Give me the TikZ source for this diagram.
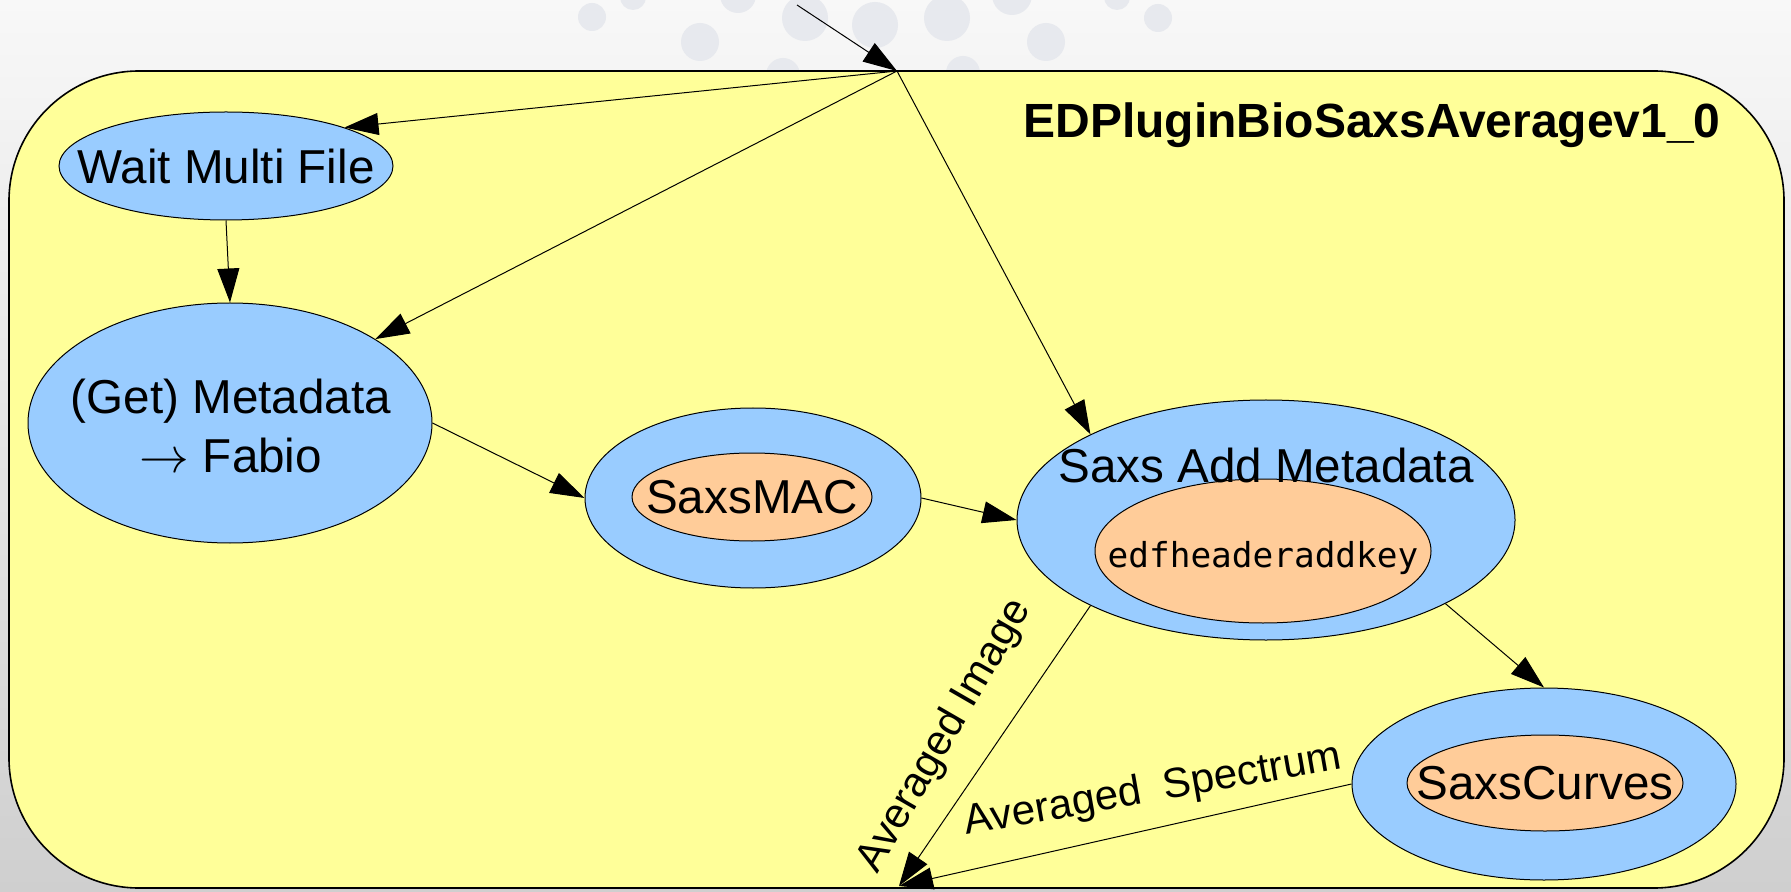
\documentclass[tikz,border=0pt]{standalone}
\usepackage{fontspec}
\setmainfont{Liberation Sans}
\newfontfamily\monofont{DejaVu Sans Mono}
\usetikzlibrary{shapes.geometric,arrows.meta}

\definecolor{boxyellow}{HTML}{FFFF99}
\definecolor{nodeblue}{HTML}{99CCFF}
\definecolor{nodeorange}{HTML}{FFCC99}
\definecolor{bgtop}{HTML}{F8F8F8}
\definecolor{bgbottom}{HTML}{CFCFCF}
\definecolor{dotgray}{HTML}{E7E9EE}

\tikzset{
  blueell/.style={draw, ellipse, fill=nodeblue, line width=0.5pt, inner sep=0pt},
  orangeell/.style={draw, ellipse, fill=nodeorange, line width=0.5pt, inner sep=0pt},
  txt/.style={font=\fontsize{23.8}{29.5}\selectfont, inner sep=0pt, align=center},
  lbl/.style={font=\fontsize{21}{25}\selectfont, inner sep=0pt},
  flow/.style={-{Triangle[length=17pt,width=11pt]}, line width=0.5pt},
}

\begin{document}
\begin{tikzpicture}[x=0.5pt, y=-0.5pt]
\useasboundingbox (0,0) rectangle (1791,892);

% background
\shade[top color=bgtop, bottom color=bgbottom] (0,0) rectangle (1791,892);
\foreach \cx/\cy/\r in {592/17/14, 633/-3/13, 700/42/19, 738/-5/18, 805/18/23,
  875/25/23, 947/18/23, 783/75/17, 963/73/17, 1012/-5/20, 1117/-3/13,
  1046/42/19, 1158/18/14}
\fill[dotgray] (\cx,\cy) circle (\r);

% plugin box
\draw[fill=boxyellow, line width=0.8pt, rounded corners=65pt] (9,71) rectangle (1784,888);
\node[anchor=base, inner sep=0pt, font=\bfseries\fontsize{24}{29}\selectfont] (title)
  at (1372,138) {EDPluginBioSaxsAveragev1\_0};

% nodes
\node[blueell, minimum width=167pt, minimum height=54pt] (wait) at (226,166) {};
\node[txt] (waittxt) at (wait) {Wait Multi File};

\node[blueell, minimum width=202pt, minimum height=120pt] (meta) at (230,423) {};
\node[txt] (metatxt) at (231,426) {(Get) Metadata\\$\rightarrow$ Fabio};

\node[blueell, minimum width=168pt, minimum height=90pt] (mac) at (753,498) {};
\node[orangeell, minimum width=120pt, minimum height=44pt] (macin) at (752,497) {};
\node[txt] (mactxt) at (macin) {SaxsMAC};

\node[blueell, minimum width=249pt, minimum height=120pt] (add) at (1266,520) {};
\node[orangeell, minimum width=168pt, minimum height=72pt] (addin) at (1263,551) {};
\node[txt, anchor=base] (addtxt) at (1266,482) {Saxs Add Metadata};
\node[anchor=base, inner sep=0pt, font=\monofont\fontsize{17.2}{20}\selectfont] (addkey)
  at (1263,567) {edfheaderaddkey};

\node[blueell, minimum width=192pt, minimum height=96pt] (curves) at (1544,784) {};
\node[orangeell, minimum width=138pt, minimum height=48pt] (curvesin) at (1545,783) {};
\node[txt] (curvestxt) at (curvesin) {SaxsCurves};

% connectors
\coordinate (src) at (797,5);
\coordinate (hub) at (897,71);
\coordinate (sink) at (899,886);

\draw[flow] (src) -- (hub);
\draw[flow] (hub) -- (wait.18);
\draw[flow] (hub) -- (meta.30);
\draw[flow] (hub) -- (add.154);
\draw[flow] (wait.south) -- (meta.north);
\draw[flow] (meta.east) -- (mac.west);
\draw[flow] (mac.east) -- (add.west);
\draw[flow] (add.-25) -- (curves.north);
\draw[flow] (add.-154) -- (sink);
\draw[flow] (curves.west) -- (sink);

% edge labels
\node[lbl, rotate=60] (imglbl) at (945,736) {Averaged Image};
\node[lbl, rotate=10] (speclbl) at (1153,791) {Averaged\ \ Spectrum};
\end{tikzpicture}
\end{document}
